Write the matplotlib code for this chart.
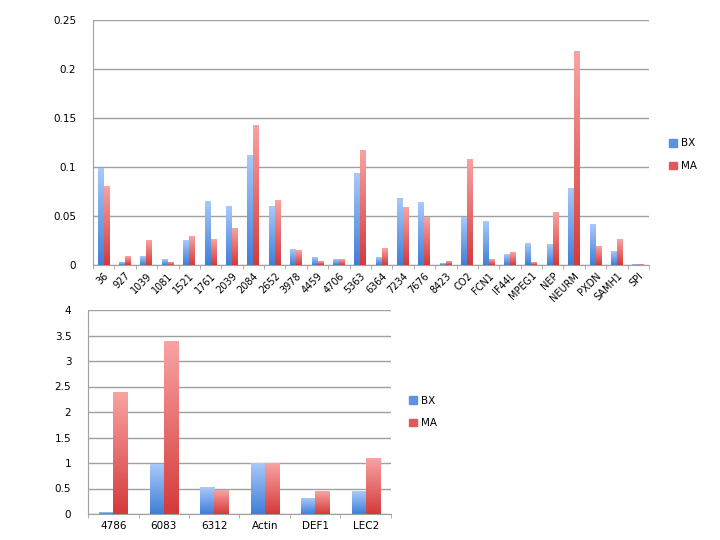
import numpy as np
import matplotlib
matplotlib.use('Agg')
import matplotlib.pyplot as plt
from matplotlib.colors import LinearSegmentedColormap
from matplotlib.patches import Patch

# 상단 차트 데이터
genes_top = ['36', '927', '1039', '1081', '1521', '1761', '2039', '2084', '2652', '3978',
             '4459', '4706', '5363', '6364', '7234', '7676', '8423', 'CO2', 'FCN1', 'IF44L',
             'MPEG1', 'NEP', 'NEURM', 'PXDN', 'SAMH1', 'SPI']
bx_top = [0.0986, 0.003, 0.0085, 0.006, 0.025, 0.065, 0.060, 0.112, 0.0595, 0.016,
          0.008, 0.006, 0.093, 0.008, 0.068, 0.064, 0.0017, 0.048, 0.0446, 0.0105,
          0.022, 0.0214, 0.078, 0.041, 0.014, 0.0005]
ma_top = [0.080, 0.009, 0.0255, 0.003, 0.0286, 0.026, 0.037, 0.1425, 0.066, 0.015,
          0.004, 0.006, 0.1167, 0.017, 0.059, 0.048, 0.004, 0.108, 0.006, 0.013,
          0.0027, 0.0537, 0.218, 0.019, 0.0265, 0.0005]

# 하단 차트 데이터
genes_bot = ['4786', '6083', '6312', 'Actin', 'DEF1', 'LEC2']
bx_bot = [0.02, 0.98, 0.51, 1.0, 0.31, 0.45]
ma_bot = [2.39, 3.39, 0.46, 1.0, 0.44, 1.08]

blue_cmap = LinearSegmentedColormap.from_list('b', ['#3f7fd8', '#a9c9f9'])
red_cmap = LinearSegmentedColormap.from_list('r', ['#d43a3a', '#f9a3a3'])
grad = np.linspace(0, 1, 256).reshape(-1, 1)

plt.rcParams['font.family'] = ['DejaVu Sans']
plt.rcParams['font.size'] = 7


def gradient_bars(ax, x, heights, cmap):
    bars = ax.bar(x, heights, width=0.28, color='none', edgecolor='none')
    for b in bars:
        x0, w, h = b.get_x(), b.get_width(), b.get_height()
        ax.imshow(grad, extent=(x0, x0 + w, 0, h), origin='lower', cmap=cmap,
                  aspect='auto', zorder=3)


def draw(ax, labels, bx, ma, ymax, step, rot, legend_pos):
    x = np.arange(len(labels))
    gradient_bars(ax, x - 0.14, bx, blue_cmap)
    gradient_bars(ax, x + 0.14, ma, red_cmap)
    ax.set_xlim(-0.5, len(labels) - 0.5)
    ax.set_ylim(0, ymax)
    ax.set_yticks(np.arange(0, ymax + step / 2, step))
    ax.set_yticklabels(['%g' % v for v in np.arange(0, ymax + step / 2, step)])
    ax.yaxis.grid(True, color='#a0a0a0', linewidth=1)
    ax.set_axisbelow(True)
    ax.tick_params(axis='y', length=0, pad=12, labelsize=7.5)
    ax.set_xticks(x)
    if rot:
        ax.set_xticklabels(labels, rotation=45, ha='right', rotation_mode='anchor')
        ax.tick_params(axis='x', length=0, pad=4, labelsize=7)
    else:
        ax.set_xticklabels(labels)
        ax.tick_params(axis='x', length=0, pad=5, labelsize=7.5)
    ax.set_xticks(np.arange(-0.5, len(labels)), minor=True)
    ax.tick_params(axis='x', which='minor', length=3, color='#a0a0a0')
    for s in ['top', 'right']:
        ax.spines[s].set_visible(False)
    for s in ['left', 'bottom']:
        ax.spines[s].set_color('#a0a0a0')
    handles = [Patch(color='#5b93e3', label='BX'), Patch(color='#e05a5a', label='MA')]
    ax.legend(handles=handles, loc='center left', bbox_to_anchor=legend_pos, frameon=False,
              handlelength=0.7, handleheight=0.7, handletextpad=0.4, labelspacing=1.2,
              fontsize=7.5)


fig = plt.figure(figsize=(7.2, 5.4), dpi=100)
ax1 = fig.add_axes([93 / 720, 1 - 265 / 540, 556 / 720, 245 / 540])
ax2 = fig.add_axes([88 / 720, 1 - 514 / 540, 303 / 720, 204 / 540])

draw(ax1, genes_top, bx_top, ma_top, 0.25, 0.05, True, (1.02, 0.45))
draw(ax2, genes_bot, bx_bot, ma_bot, 4, 0.5, False, (1.03, 0.5))

fig.savefig('out.png', dpi=100)
